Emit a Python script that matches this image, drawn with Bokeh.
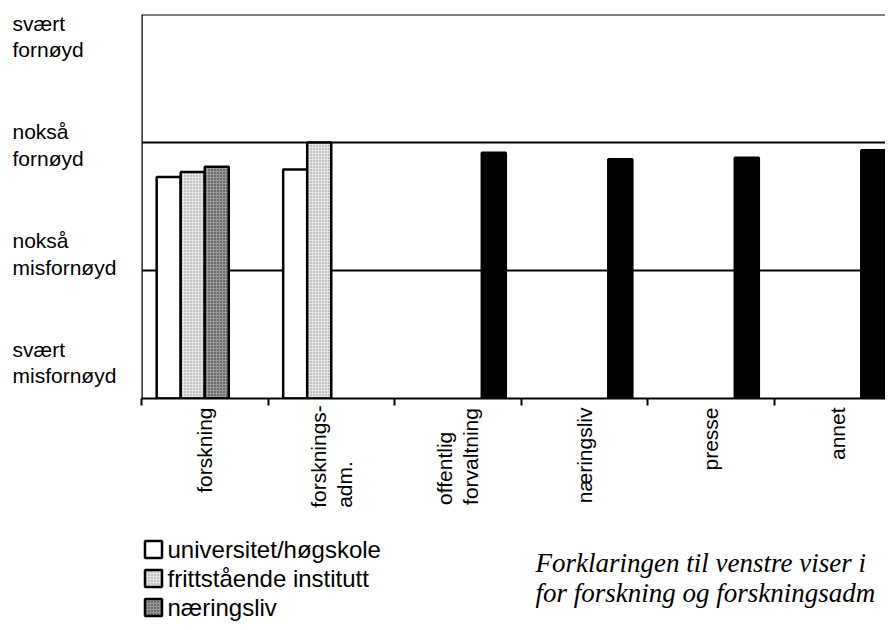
import math
from bokeh.plotting import figure
from bokeh.models import Range1d, FixedTicker, Span, ColumnDataSource
from bokeh.embed import file_html
from bokeh.resources import INLINE
from bokeh.core.properties import value

# ---- data -------------------------------------------------------------
categories = ["forskning", "forsknings-\nadm.", "offentlig\nforvaltning",
              "næringsliv", "presse", "annet"]
universitet = [2.73, 2.79, None, None, None, None]
frittstaende = [2.77, 3.00, None, None, None, None]
naeringsliv = [2.81, None, None, None, None, None]
alle = [None, None, 2.92, 2.87, 2.88, 2.94]
series_names = ["universitet/høgskole", "frittstående institutt", "næringsliv"]
level_labels = ["svært\nmisfornøyd", "nokså\nmisfornøyd", "nokså\nfornøyd", "svært\nfornøyd"]
levels = [1, 2, 3, 4]
note_lines = ["Forklaringen til venstre viser i", "for forskning og forskningsadm"]

# ---- layout -----------------------------------------------------------
W, H = 885, 622
left, top, frame_bottom = 141, 14, 398
px_x = 126.5
frame_w = W - left
frame_h = frame_bottom - top
px_y = frame_h / (levels[-1] - levels[0])


def dx(px):
    return (px - left) / px_x


def dy(py):
    return levels[0] + (frame_bottom - py) / px_y


p = figure(width=W, height=H, output_backend="svg", toolbar_location=None,
           x_range=Range1d(0, frame_w / px_x), y_range=Range1d(levels[0], levels[-1]),
           min_border_left=left, min_border_right=0, min_border_top=top,
           min_border_bottom=H - frame_bottom)
p.outline_line_color = None
p.background_fill_color = "white"
p.border_fill_color = "white"

p.yaxis.visible = False
p.xgrid.visible = False
p.ygrid.ticker = FixedTicker(ticks=levels[1:-1])
p.ygrid.grid_line_color = "black"
p.ygrid.grid_line_width = 2

ticks = list(range(len(categories)))
p.xaxis.ticker = FixedTicker(ticks=ticks)
p.xaxis.major_label_overrides = {t: "" for t in ticks}
p.xaxis.axis_line_width = 2
p.xaxis.axis_line_color = "black"
p.xaxis.major_tick_line_width = 2
p.xaxis.major_tick_line_color = "black"
p.xaxis.major_tick_in = 0
p.xaxis.major_tick_out = 7
p.xaxis.minor_tick_line_color = None

p.add_layout(Span(location=levels[-1], dimension="width", line_color="black", line_width=2))
p.add_layout(Span(location=0, dimension="height", line_color="black", line_width=2.5))

# ---- bars ---------------------------------------------------------------
bw = 0.19
offsets = [-1.5 * bw, -0.5 * bw, 0.5 * bw, 1.5 * bw]
styles = [
    dict(fill_color="white"),
    dict(fill_color="#e6e6e6", hatch_pattern="dot", hatch_color="#8a8a8a", hatch_scale=3, hatch_weight=1),
    dict(fill_color="#9a9a9a", hatch_pattern="dot", hatch_color="#222222", hatch_scale=3, hatch_weight=1),
    dict(fill_color="black"),
]
for vals, off, st in zip([universitet, frittstaende, naeringsliv, alle], offsets, styles):
    xs = [i + 0.5 + off for i, v in enumerate(vals) if v is not None]
    ts = [v for v in vals if v is not None]
    src = ColumnDataSource(dict(x=xs, top=ts))
    p.vbar(x="x", top="top", bottom=levels[0], width=bw, source=src,
           line_color="black", line_width=2.5, **st)

# ---- category labels ------------------------------------------------------
multi = ["\n" in c for c in categories]
cat_src = ColumnDataSource(dict(
    x=[i + 0.5 for i in range(len(categories))],
    y=[dy(frame_bottom + 58) if m else dy(frame_bottom + 9) for m in multi],
    anchor=["center" if m else "center_right" for m in multi],
    text=categories))
p.text(x="x", y="y", text="text", anchor="anchor", source=cat_src, angle=math.pi / 2,
       text_font=value("Liberation Sans"), text_font_size="21px",
       text_color="black", text_line_height=1.15, level="overlay")

# ---- level labels -------------------------------------------------------
lab_y = [l + 0.28 - (l - 1) * 0.15 for l in levels]
lev_src = ColumnDataSource(dict(x=[dx(12)] * len(levels), y=lab_y, text=level_labels))
p.text(x="x", y="y", text="text", source=lev_src, text_align="left", text_baseline="middle",
       text_font=value("Liberation Sans"), text_font_size="21px", text_color="black",
       text_line_height=1.15, level="overlay")

# ---- legend (drawn below the frame) -----------------------------------------
row_y = [dy(549 + 29 * k) for k in range(len(series_names))]
for k, (name, st) in enumerate(zip(series_names, styles[:3])):
    p.rect(x=dx(153), y=row_y[k], width=17, height=17, width_units="screen",
           height_units="screen", line_color="black", line_width=2.5, level="overlay", **st)
leg_src = ColumnDataSource(dict(x=[dx(167)] * len(series_names), y=row_y, text=series_names))
p.text(x="x", y="y", text="text", source=leg_src, text_align="left", text_baseline="middle",
       text_font=value("Liberation Sans"), text_font_size="24px", text_color="black",
       level="overlay")

# ---- note ------------------------------------------------------------------
note_src = ColumnDataSource(dict(x=[dx(535)] * 2, y=[dy(562), dy(592)], text=note_lines))
p.text(x="x", y="y", text="text", source=note_src, text_align="left", text_baseline="middle",
       text_font=value("Liberation Serif"), text_font_style="italic", text_font_size="27px",
       text_color="black", level="overlay")

open("out.html", "w").write(file_html(p, INLINE))
